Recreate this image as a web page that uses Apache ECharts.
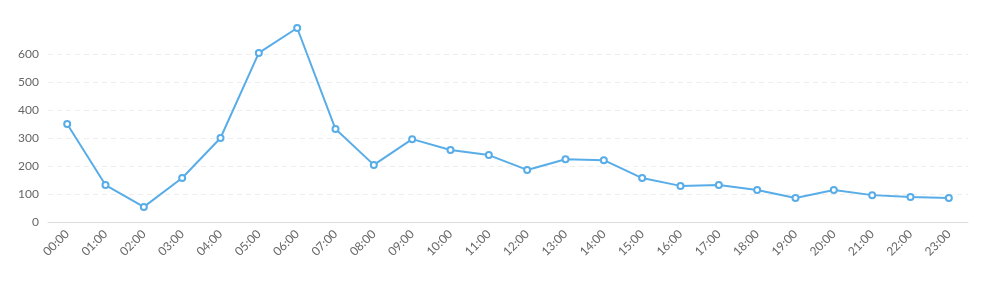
<!DOCTYPE html>
<html>
<head>
<meta charset="utf-8">
<script src="https://cdn.jsdelivr.net/npm/echarts@6/dist/echarts.min.js"></script>
<style>html,body{margin:0;padding:0;background:#fff}#c{width:994px;height:289px}</style>
</head>
<body>
<div id="c"></div>
<script>
const categories = ['00:00','01:00','02:00','03:00','04:00','05:00','06:00','07:00','08:00','09:00','10:00','11:00','12:00','13:00','14:00','15:00','16:00','17:00','18:00','19:00','20:00','21:00','22:00','23:00'];
const values = [350,132,54,157,300,604,693,332,204,296,257,239,186,224,221,157,129,132,114,86,114,96,89,86];
const yTicks = [0,100,200,300,400,500,600];

const chart = echarts.init(document.getElementById('c'), null, {renderer:'canvas'});
chart.setOption({
  animation: false,
  textStyle: {fontFamily: 'Lato'},
  grid: {left: 48, right: 26, top: 28, bottom: 67},
  xAxis: {
    type: 'category',
    data: categories,
    boundaryGap: true,
    axisLine: {lineStyle: {color: '#dddddd'}},
    axisTick: {show: false},
    axisLabel: {rotate: 45, color: '#666', fontSize: 12, fontFamily: 'Lato', margin: 10, interval: 0}
  },
  yAxis: {
    type: 'value',
    min: 0,
    max: 'dataMax',
    interval: 100,
    axisLine: {show: false},
    axisTick: {show: false},
    axisLabel: {color: '#666', fontSize: 12, fontFamily: 'Lato', margin: 9, showMaxLabel: false,
      formatter: v => yTicks.indexOf(v) >= 0 ? String(v) : ''},
    splitLine: {showMaxLine: false, lineStyle: {color: '#eeeeee', type: [5, 4]}}
  },
  series: [{
    type: 'line',
    data: values,
    symbol: 'emptyCircle',
    symbolSize: 6,
    lineStyle: {color: '#58ade8', width: 2},
    itemStyle: {color: '#58ade8', borderWidth: 2}
  }]
});
</script>
</body>
</html>
